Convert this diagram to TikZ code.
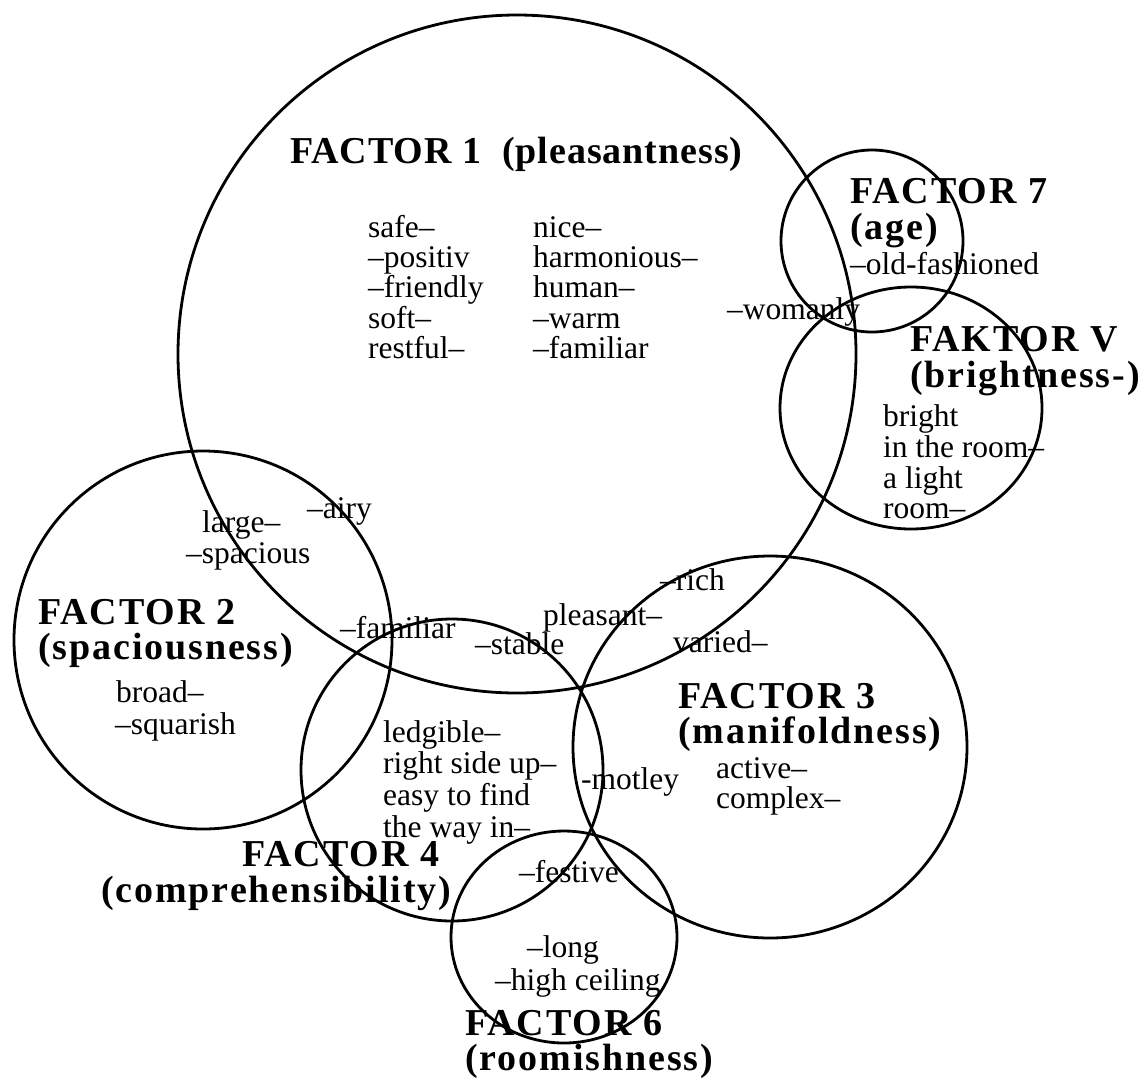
\documentclass[tikz,border=0pt]{standalone}
\usepackage{fontspec}
\usetikzlibrary{shapes.geometric}
\newfontfamily\lblfont{Liberation Serif}
\newfontfamily\hdfont{Liberation Serif}[LetterSpace=5]
\newfontfamily\hdfontA{Liberation Serif}[LetterSpace=2.5]
\tikzset{
  ring/.style={draw=black, line width=2.8pt, ellipse, inner sep=0pt, outer sep=0pt},
  lbl/.style={font=\lblfont\fontsize{31.5}{31.5}\selectfont, inner sep=0pt, anchor=base west},
  hd/.style={font=\hdfont\fontsize{38}{38}\bfseries\selectfont, inner sep=0pt, anchor=base west},
  hdA/.style={font=\hdfontA\fontsize{38}{38}\bfseries\selectfont, inner sep=0pt, anchor=base west}
}
\begin{document}
\begin{tikzpicture}[x=1pt,y=-1pt]
\fill[white] (0,0) rectangle (1148,1080);
\useasboundingbox (0,0) rectangle (1148,1080);
% circles
\node[ring, minimum width=678pt, minimum height=678pt] (c1) at (517,354) {};
\node[ring, minimum width=182pt, minimum height=182pt] (c7) at (872,241) {};
\node[ring, minimum width=262pt, minimum height=242pt] (c5) at (911,408) {};
\node[ring, minimum width=378pt, minimum height=378pt] (c2) at (203,640) {};
\node[ring, minimum width=302pt, minimum height=302pt] (c4) at (452,770) {};
\node[ring, minimum width=394pt, minimum height=382pt] (c3) at (770,747) {};
\node[ring, minimum width=226pt, minimum height=212pt] (c6) at (564,937) {};
% factor 1
\node[hdA] (h1) at (290,163) {FACTOR 1\ \ (pleasantness)};
\node[lbl] (a1) at (368,237) {safe–};
\node[lbl] (a2) at (368,267) {–positiv};
\node[lbl] (a3) at (368,297) {–friendly};
\node[lbl] (a4) at (368,328) {soft–};
\node[lbl] (a5) at (368,358) {restful–};
\node[lbl] (b1) at (533,237) {nice–};
\node[lbl] (b2) at (533,267) {harmonious–};
\node[lbl] (b3) at (533,297) {human–};
\node[lbl] (b4) at (533,328) {–warm};
\node[lbl] (b5) at (533,358) {–familiar};
\node[lbl] (wom) at (727,319) {–womanly};
% factor 7
\node[hd] (h7) at (850,203) {FACTOR 7};
\node[hd] (h7b) at (850,239) {(age)};
\node[lbl] (old) at (850,274) {–old-fashioned};
% faktor V
\node[hd] (h5) at (910,351) {FAKTOR V};
\node[hd] (h5b) at (910,387) {(brightness-)};
\node[lbl] (v1) at (883,426) {bright};
\node[lbl] (v2) at (883,457) {in the room–};
\node[lbl] (v3) at (883,488) {a light};
\node[lbl] (v4) at (883,518) {room–};
% factor 2
\node[lbl] (airy) at (307,518) {–airy};
\node[lbl] (large) at (202,532) {large–};
\node[lbl] (spac) at (186,563) {–spacious};
\node[hd] (h2) at (38,624) {FACTOR 2};
\node[hd] (h2b) at (38,659) {(spaciousness)};
\node[lbl] (broad) at (116,702) {broad–};
\node[lbl] (squar) at (115,734) {–squarish};
% overlaps
\node[lbl] (rich) at (660,590) {–rich};
\node[lbl] (pleas) at (543,625) {pleasant–};
\node[lbl] (fam) at (340,638) {–familiar};
\node[lbl] (stab) at (475,654) {–stable};
\node[lbl] (var) at (673,652) {varied–};
% factor 3
\node[hd] (h3) at (678,708) {FACTOR 3};
\node[hd] (h3b) at (678,743) {(manifoldness)};
\node[lbl] (act) at (716,778) {active–};
\node[lbl] (comp) at (716,808) {complex–};
% factor 4
\node[lbl] (l1) at (383,742) {ledgible–};
\node[lbl] (l2) at (383,773) {right side up–};
\node[lbl] (l3) at (383,805) {easy to find};
\node[lbl] (l4) at (383,837) {the way in–};
\node[lbl] (mot) at (581,789) {-motley};
\node[hd] (h4) at (242,866) {FACTOR 4};
\node[hd] (h4b) at (101,902) {(comprehensibility)};
\node[lbl] (fest) at (519,882) {–festive};
% factor 6
\node[lbl] (long) at (527,957) {–long};
\node[lbl] (high) at (495,990) {–high ceiling};
\node[hd] (h6) at (465,1035) {FACTOR 6};
\node[hd] (h6b) at (465,1070) {(roomishness)};
\end{tikzpicture}
\end{document}
